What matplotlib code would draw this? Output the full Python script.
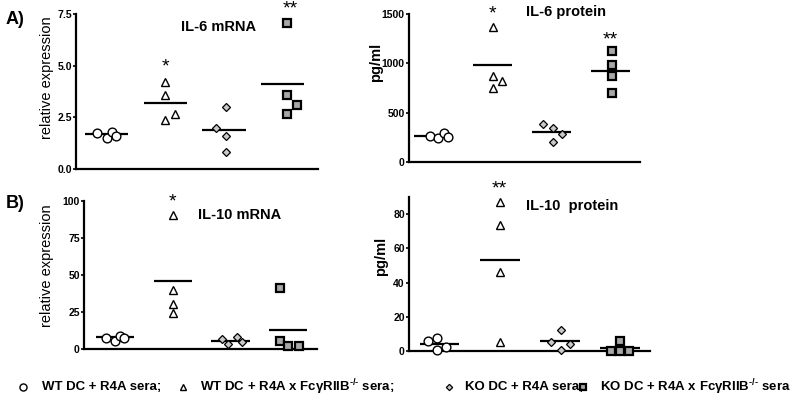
import numpy as np
import matplotlib
matplotlib.use("Agg")
import matplotlib.pyplot as plt

plt.rcParams['font.family'] = ['Liberation Sans', 'DejaVu Sans']
plt.rcParams['mathtext.fontset'] = 'custom'
plt.rcParams['mathtext.rm'] = 'Liberation Sans:bold'
plt.rcParams['mathtext.default'] = 'regular'

groups = ['WT DC + R4A sera', 'WT DC + R4A x FcyRIIB-/- sera',
          'KO DC + R4A sera', 'KO DC + R4A x FcyRIIB-/- sera']

# IL-6 mRNA (relative expression)
il6_mrna = [[1.75, 1.5, 1.8, 1.6],
            [4.2, 3.6, 2.35, 2.65],
            [2.0, 3.0, 1.6, 0.8],
            [7.05, 3.6, 3.1, 2.65]]
il6_mrna_mean = [1.68, 3.2, 1.88, 4.1]

# IL-6 protein (pg/ml)
il6_prot = [[265, 240, 290, 250],
            [1365, 870, 825, 755],
            [385, 340, 280, 205],
            [1130, 980, 870, 700]]
il6_prot_mean = [263, 980, 301, 922]

# IL-10 mRNA (relative expression)
il10_mrna = [[7.2, 5.6, 8.8, 7.2],
             [90.5, 40.0, 30.5, 24.0],
             [7.0, 3.2, 7.8, 5.0],
             [41.0, 5.2, 2.2, 2.2]]
il10_mrna_mean = [7.9, 46.0, 5.6, 13.0]

# IL-10 protein (pg/ml)
il10_prot = [[5.5, 7.2, 0.3, 2.3],
             [87.5, 73.5, 46.3, 5.3],
             [5.3, 12.3, 0.3, 3.7],
             [5.8, 0.0, 0.0, 0.0]]
il10_prot_mean = [4.0, 53.5, 5.5, 1.4]

# jitter of the points inside each column (x units)
jit_a1 = [[-0.17, 0.0, 0.09, 0.16], [0, 0, 0, 0.16], [-0.14, 0.04, 0.04, 0.04], [0.07, 0.07, 0.24, 0.07]]
jit_a2 = [[-0.07, 0.08, 0.17, 0.25], [0, 0, 0.15, 0], [-0.15, 0.02, 0.18, 0.02], [0.02, 0.02, 0.02, 0.02]]
jit_b1 = [[-0.15, 0.0, 0.08, 0.15], [0, 0, 0, 0], [-0.15, -0.05, 0.12, 0.2], [-0.15, -0.15, 0.0, 0.18]]
jit_b2 = [[-0.2, -0.05, -0.05, 0.1], [0, 0, 0, 0], [-0.15, 0.02, 0.02, 0.17], [0.0, 0.0, -0.15, 0.15]]

markers = ['o', '^', 'D', 's']
faces = ['white', 'white', '#c8c8c8', '#a8a8a8']
msizes = [6.3, 5.8, 4.4, 5.4]
medge = [1.0, 1.0, 0.9, 1.6]

W, H = 800, 401
fig = plt.figure(figsize=(8, 4.01), dpi=100)


def px_axes(x0, x1, ytop, ybot):
    return fig.add_axes([x0 / W, 1 - ybot / H, (x1 - x0) / W, (ybot - ytop) / H])


def panel(ax, data, means, jit, xlim, ylim, ticks, labels, halfw):
    for g in range(4):
        xs = g + np.array(jit[g])
        ax.plot(xs, data[g], linestyle='none', marker=markers[g], ms=msizes[g],
                mfc=faces[g], mec='black', mew=medge[g], clip_on=False, zorder=3)
        ax.plot([g - halfw, g + halfw], [means[g], means[g]], color='black', lw=1.6,
                solid_capstyle='butt', zorder=2)
    ax.set_xlim(*xlim)
    ax.set_ylim(*ylim)
    ax.set_yticks(ticks)
    ax.set_yticklabels(labels, fontsize=7.5, fontweight='bold')
    ax.set_xticks([])
    for s in ['top', 'right']:
        ax.spines[s].set_visible(False)
    for s in ['left', 'bottom']:
        ax.spines[s].set_linewidth(1.6)
    ax.tick_params(axis='y', length=2.5, width=1.2, pad=0.5)
    ax.patch.set_visible(False)


ax1 = px_axes(76, 318, 14, 169)
panel(ax1, il6_mrna, il6_mrna_mean, jit_a1, (-0.52, 3.6), (0, 7.5),
      [0, 2.5, 5, 7.5], ['0.0', '2.5', '5.0', '7.5'], 0.37)
ax1.text(1, 4.95, '*', ha='center', va='center', fontsize=14)
ax1.text(3.12, 7.75, '**', ha='center', va='center', fontsize=14)
ax1.text(1.9, 6.85, 'IL-6 mRNA', ha='center', va='center', fontsize=10.5, fontweight='bold')

ax2 = px_axes(409, 640, 14, 162)
panel(ax2, il6_prot, il6_prot_mean, jit_a2, (-0.42, 3.5), (0, 1500),
      [0, 500, 1000, 1500], ['0', '500', '1000', '1500'], 0.33)
ax2.text(1, 1500, '*', ha='center', va='center', fontsize=14)
ax2.text(3.0, 1240, '**', ha='center', va='center', fontsize=14)
ax2.text(2.25, 1520, 'IL-6 protein', ha='center', va='center', fontsize=10.5, fontweight='bold')

ax3 = px_axes(84, 317, 200.7, 349)
panel(ax3, il10_mrna, il10_mrna_mean, jit_b1, (-0.54, 3.5), (0, 100),
      [0, 25, 50, 75, 100], ['0', '25', '50', '75', '100'], 0.33)
ax3.text(1, 99, '*', ha='center', va='center', fontsize=14)
ax3.text(2.15, 90.5, 'IL-10 mRNA', ha='center', va='center', fontsize=10.5, fontweight='bold')

ax4 = px_axes(409, 650, 197.3, 350.7)
panel(ax4, il10_prot, il10_prot_mean, jit_b2, (-0.51, 3.5), (0, 90),
      [0, 20, 40, 60, 80], ['0', '20', '40', '60', '80'], 0.33)
ax4.text(1, 95, '**', ha='center', va='center', fontsize=14)
ax4.text(2.2, 85, 'IL-10  protein', ha='center', va='center', fontsize=10.5, fontweight='bold')

# free text and legend in pixel coordinates
ov = fig.add_axes([0, 0, 1, 1])
ov.set_xlim(0, W)
ov.set_ylim(H, 0)
ov.axis('off')
ov.patch.set_visible(False)

ov.text(6, 19, 'A)', fontsize=13, fontweight='bold', va='center', ha='left')
ov.text(6, 204, 'B)', fontsize=13, fontweight='bold', va='center', ha='left')
ov.text(47, 78, 'relative expression', rotation=90, fontsize=10.5, va='center', ha='center')
ov.text(47, 266, 'relative expression', rotation=90, fontsize=10.5, va='center', ha='center')
ov.text(376, 62, 'pg/ml', rotation=90, fontsize=10.5, fontweight='bold', va='center', ha='center')
ov.text(381, 256, 'pg/ml', rotation=90, fontsize=10.5, fontweight='bold', va='center', ha='center')

leg_x = [23, 183, 449, 583]
leg_tx = [42, 200, 465, 600]
leg_txt = ['WT DC + R4A sera;', 'WT DC + R4A x Fc\u03b3RIIB$^{\\text{-/-}}$ sera;',
           'KO DC + R4A sera;', 'KO DC + R4A x Fc\u03b3RIIB$^{\\text{-/-}}$ sera']
for g in range(4):
    ov.plot([leg_x[g]], [387], linestyle='none', marker=markers[g], ms=msizes[g] - 1.2,
            mfc=faces[g], mec='black', mew=medge[g])
    ov.text(leg_tx[g], 387, leg_txt[g], fontsize=9.5, fontweight='bold', va='center', ha='left')

fig.savefig('out.png', dpi=100)
